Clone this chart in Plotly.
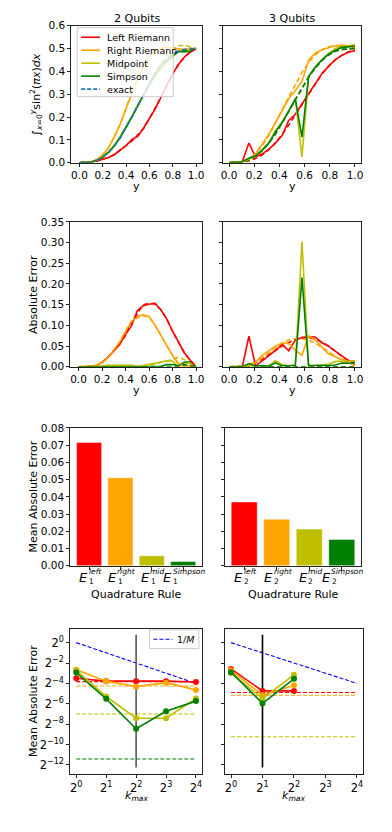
import numpy as np
import plotly.graph_objects as go

# ---------------- data ----------------
methods = ["Left Riemann", "Right Riemann", "Midpoint", "Simpson"]

# 2 qubits, cumulative integral
y_2q = [0.0, 0.05, 0.1, 0.15, 0.2, 0.25, 0.3, 0.35, 0.4, 0.45, 0.5,
        0.55, 0.6, 0.65, 0.7, 0.75, 0.8, 0.85, 0.9, 0.95, 1.0]
exact_2q = [0, 0.0004, 0.0032, 0.0106, 0.0243, 0.0454, 0.0743, 0.1106, 0.1532, 0.2004, 0.25,
            0.2996, 0.3468, 0.3894, 0.4257, 0.4546, 0.4757, 0.4894, 0.4968, 0.4996, 0.5]
left_2q = [0, 0.0004, 0.003, 0.008, 0.014, 0.023, 0.036, 0.057, 0.075, 0.102, 0.115,
           0.152, 0.196, 0.236, 0.288, 0.339, 0.39, 0.431, 0.463, 0.484, 0.5]
left_2q_cl = [0, 0.0004, 0.003, 0.008, 0.014, 0.023, 0.036, 0.055, 0.078, 0.095, 0.122,
              0.15, 0.194, 0.238, 0.288, 0.339, 0.39, 0.431, 0.463, 0.484, 0.5]
right_2q = [0, 0.0004, 0.004, 0.014, 0.034, 0.067, 0.114, 0.17, 0.238, 0.308, 0.372,
            0.425, 0.468, 0.49, 0.502, 0.506, 0.503, 0.497, 0.495, 0.498, 0.5]
right_2q_cl = [0, 0.0004, 0.004, 0.014, 0.034, 0.067, 0.114, 0.17, 0.24, 0.31, 0.368,
               0.423, 0.467, 0.49, 0.502, 0.505, 0.502, 0.496, 0.496, 0.499, 0.5]
mid_2q = [0, 0.0004, 0.003, 0.011, 0.026, 0.049, 0.078, 0.115, 0.157, 0.204, 0.25,
          0.297, 0.341, 0.38, 0.414, 0.44, 0.462, 0.489, 0.487, 0.492, 0.5]
mid_2q_cl = [0, 0.0004, 0.003, 0.011, 0.025, 0.047, 0.077, 0.114, 0.156, 0.203, 0.25,
             0.302, 0.35, 0.396, 0.435, 0.468, 0.494, 0.512, 0.514, 0.507, 0.5]
simp_2q = [0, 0.0004, 0.0032, 0.0106, 0.0243, 0.0454, 0.0743, 0.1106, 0.1532, 0.2004, 0.25,
           0.2996, 0.3468, 0.3894, 0.4247, 0.4496, 0.4705, 0.4874, 0.4858, 0.4876, 0.5]
simp_2q_cl = [0, 0.0004, 0.0032, 0.0106, 0.0243, 0.0454, 0.0743, 0.1106, 0.1532, 0.2004, 0.25,
              0.2996, 0.3468, 0.3894, 0.4257, 0.4546, 0.4757, 0.4874, 0.4918, 0.4976, 0.5]

# 3 qubits, cumulative integral
y_3q = [0.0, 0.0526, 0.1053, 0.1579, 0.2105, 0.2632, 0.3158, 0.3684, 0.4211, 0.4737,
        0.5263, 0.5789, 0.6316, 0.6842, 0.7368, 0.7895, 0.8421, 0.8947, 0.9474, 1.0]
exact_3q = [0, 0.0005, 0.0038, 0.0123, 0.0281, 0.0523, 0.0850, 0.1257, 0.1727, 0.2237,
            0.2763, 0.3273, 0.3743, 0.4150, 0.4477, 0.4719, 0.4877, 0.4962, 0.4995, 0.5]
left_3q = [0, 0.0005, 0.004, 0.086, 0.026, 0.038, 0.059, 0.086, 0.119, 0.185,
           0.212, 0.257, 0.302, 0.343, 0.39, 0.422, 0.45, 0.47, 0.484, 0.49]
left_3q_cl = [0, 0.0005, 0.003, 0.008, 0.018, 0.034, 0.057, 0.087, 0.123, 0.165,
              0.21, 0.257, 0.304, 0.348, 0.388, 0.422, 0.45, 0.47, 0.486, 0.495]
right_3q = [0, 0.0005, 0.005, 0.018, 0.038, 0.08, 0.124, 0.175, 0.23, 0.28,
            0.316, 0.355, 0.449, 0.48, 0.495, 0.503, 0.512, 0.515, 0.512, 0.515]
right_3q_cl = [0, 0.0005, 0.005, 0.017, 0.04, 0.074, 0.119, 0.172, 0.23, 0.288,
               0.344, 0.395, 0.438, 0.472, 0.495, 0.508, 0.513, 0.512, 0.508, 0.503]
mid_3q = [0, 0.0005, 0.004, 0.015, 0.03, 0.055, 0.087, 0.14, 0.178, 0.226,
          0.28, 0.025, 0.376, 0.418, 0.452, 0.478, 0.5, 0.51, 0.512, 0.515]
mid_3q_cl = [0, 0.0005, 0.0038, 0.0125, 0.0285, 0.053, 0.086, 0.127, 0.174, 0.225,
             0.277, 0.328, 0.375, 0.415, 0.448, 0.472, 0.488, 0.496, 0.4995, 0.5]
simp_3q = [0, 0.0005, 0.004, 0.02, 0.03, 0.055, 0.086, 0.135, 0.175, 0.226,
           0.28, 0.112, 0.377, 0.418, 0.45, 0.475, 0.492, 0.505, 0.508, 0.51]
simp_3q_cl = [0, 0.0005, 0.0038, 0.0123, 0.0281, 0.0523, 0.0850, 0.1257, 0.1727, 0.2237,
              0.2763, 0.3273, 0.3743, 0.4150, 0.4477, 0.4719, 0.4877, 0.4962, 0.4995, 0.5]

# Mean absolute error bars
bar_sup = ["left", "right", "mid", "Simpson"]
bar_sub_2q = "1"
bar_sub_3q = "2"
mae_2q = [0.0715, 0.051, 0.0058, 0.0025]
mae_3q = [0.037, 0.027, 0.0213, 0.0153]

# MAE vs k_max
kmax_2q = [1, 2, 4, 8, 16]
kmax_3q = [1, 2, 4]
kmax_all = [1, 2, 4, 8, 16]
inv_M = [1.0, 0.5, 0.25, 0.125, 0.0625]
k_err_2q = {
    "left": [0.0884, 0.0728, 0.0728, 0.0728, 0.0684],
    "right": [0.1593, 0.0728, 0.0501, 0.0656, 0.0399],
    "mid": [0.1528, 0.0256, 0.00584, 0.00584, 0.0224],
    "simp": [0.1303, 0.0218, 0.00286, 0.00935, 0.0187],
}
k_err_3q = {
    "left": [0.1672, 0.0375, 0.0375],
    "right": [0.1528, 0.0280, 0.0548],
    "mid": [0.1276, 0.0224, 0.1119],
    "simp": [0.1340, 0.0160, 0.0854],
}
classical_2q = {"left": 0.0705, "right": 0.0522, "mid": 0.0078, "simp": 0.000364}
classical_3q = {"left": 0.0335, "right": 0.0280, "mid": 0.00166}
k_selected_2q = 4
k_selected_3q = 2
log2_tick_exps = [0, -2, -4, -6, -8, -10, -12]
kmax_tick_exps = [0, 1, 2, 3, 4]

# ---------------- style ----------------
C = {"left": "#ff0000", "right": "#ffa500", "mid": "#bfbf00", "simp": "#008000"}
C_EXACT = "#1f77b4"
FONT = "DejaVu Sans"
W, H = 392, 832
LW = 1.6
DASH = "5px,3px"
# approximate DejaVu Sans advance widths (em/1000) for label layout
CHAR_W = {"l": 278, "e": 615, "f": 352, "t": 392, "r": 411, "i": 278, "g": 635, "h": 634,
          "m": 974, "d": 635, "S": 635, "p": 635, "s": 521, "o": 612, "n": 634}


def xd(a, b):
    return [a / W, b / W]


def yd(top, bottom):
    return [1 - bottom / H, 1 - top / H]


fig = go.Figure()
keys = ["left", "right", "mid", "simp"]


def add_curve(x, y, color, xa, ya, dash=None, width=LW):
    fig.add_trace(go.Scatter(x=x, y=y, mode="lines",
                             line=dict(color=color, width=width, dash=dash),
                             xaxis=xa, yaxis=ya, showlegend=False, hoverinfo="skip"))


# Row 1 left: 2 qubits
sol2 = [left_2q, right_2q, mid_2q, simp_2q]
cl2 = [left_2q_cl, right_2q_cl, mid_2q_cl, simp_2q_cl]
for k, s in zip(keys, sol2):
    add_curve(y_2q, s, C[k], "x", "y")
for k, c in zip(keys, cl2):
    add_curve(y_2q, c, C[k], "x", "y", dash=DASH)
add_curve(y_2q, exact_2q, C_EXACT, "x", "y", dash=DASH)

# Row 1 right: 3 qubits
sol3 = [left_3q, right_3q, mid_3q, simp_3q]
cl3 = [left_3q_cl, right_3q_cl, mid_3q_cl, simp_3q_cl]
add_curve(y_3q, exact_3q, C_EXACT, "x2", "y2", dash=DASH)
for k, c in zip(keys, cl3):
    add_curve(y_3q, c, C[k], "x2", "y2", dash=DASH)
for k, s in zip(keys, sol3):
    add_curve(y_3q, s, C[k], "x2", "y2")

# Row 2: absolute errors
ex2 = np.array(exact_2q)
ex3 = np.array(exact_3q)
for k, s in zip(keys, sol2):
    add_curve(y_2q, np.abs(np.array(s) - ex2), C[k], "x3", "y3")
for k, c in zip(keys, cl2):
    add_curve(y_2q, np.abs(np.array(c) - ex2), C[k], "x3", "y3", dash=DASH)
for k, c in zip(keys, cl3):
    add_curve(y_3q, np.abs(np.array(c) - ex3), C[k], "x4", "y4", dash=DASH)
for k, s in zip(keys, sol3):
    add_curve(y_3q, np.abs(np.array(s) - ex3), C[k], "x4", "y4")

# Row 3: bars
bar_colors = [C[k] for k in keys]
for xa, ya, vals in (("x5", "y5", mae_2q), ("x6", "y6", mae_3q)):
    fig.add_trace(go.Bar(x=list(range(len(vals))), y=vals,
                         marker=dict(color=bar_colors, line=dict(width=1, color="rgba(255,255,255,0.45)")),
                         width=0.8, xaxis=xa, yaxis=ya, showlegend=False, hoverinfo="skip"))

# Row 4: MAE vs k_max
YR4 = [-12.87 * np.log10(2), 1.35 * np.log10(2)]
XR4 = [-0.2 * np.log10(2), 4.2 * np.log10(2)]
v_lo = 10 ** (YR4[0] + 0.043 * (YR4[1] - YR4[0]))
v_hi = 10 ** (YR4[0] + 0.959 * (YR4[1] - YR4[0]))


def row4(xa, ya, kvals, errs, classical, ksel, vcolor):
    for k in keys:
        if k in classical:
            fig.add_trace(go.Scatter(x=[kmax_all[0], kmax_all[-1]], y=[classical[k]] * 2, mode="lines",
                                     line=dict(color=C[k], width=1.1, dash="4px,2px"),
                                     xaxis=xa, yaxis=ya, showlegend=False, hoverinfo="skip"))
    fig.add_trace(go.Scatter(x=kmax_all, y=inv_M, mode="lines",
                             line=dict(color="#0000ff", width=1.1, dash="4px,2px"),
                             xaxis=xa, yaxis=ya, showlegend=False, hoverinfo="skip"))
    fig.add_trace(go.Scatter(x=[ksel, ksel], y=[v_lo, v_hi], mode="lines",
                             line=dict(color=vcolor, width=1.6),
                             xaxis=xa, yaxis=ya, showlegend=False, hoverinfo="skip"))
    for k in keys:
        fig.add_trace(go.Scatter(x=kvals, y=errs[k], mode="lines+markers",
                                 line=dict(color=C[k], width=LW), marker=dict(color=C[k], size=6),
                                 xaxis=xa, yaxis=ya, showlegend=False, hoverinfo="skip"))


row4("x7", "y7", kmax_2q, k_err_2q, classical_2q, k_selected_2q, "#555555")
row4("x8", "y8", kmax_3q, k_err_3q, classical_3q, k_selected_3q, "#000000")

# ---------------- layout ----------------
tickfont = dict(family=FONT, size=10.5, color="black")
base = dict(showline=True, mirror=True, linecolor="#222", linewidth=1, ticks="outside",
            ticklen=3, tickwidth=1, tickcolor="#222", showgrid=False, zeroline=False,
            tickfont=tickfont, fixedrange=True)

lay = {}
lay["xaxis"] = dict(base, domain=xd(70, 202), range=[-0.07, 1.05], dtick=0.2, tick0=0, tickformat=".1f", anchor="y")
lay["yaxis"] = dict(base, domain=yd(20, 159), range=[0, 0.6], dtick=0.1, tick0=0, tickformat=".1f", anchor="x")
lay["xaxis2"] = dict(base, domain=xd(223, 363), range=[-0.05, 1.05], dtick=0.2, tick0=0, tickformat=".1f", anchor="y2")
lay["yaxis2"] = dict(base, domain=yd(20, 159), range=[0, 0.6], dtick=0.1, tick0=0, showticklabels=False, anchor="x2")
lay["xaxis3"] = dict(base, domain=xd(69, 202), range=[-0.07, 1.05], dtick=0.2, tick0=0, tickformat=".1f", anchor="y3")
lay["yaxis3"] = dict(base, domain=yd(219, 366), range=[0, 0.35], dtick=0.05, tick0=0, tickformat=".2f", anchor="x3")
lay["xaxis4"] = dict(base, domain=xd(223, 363), range=[-0.05, 1.05], dtick=0.2, tick0=0, tickformat=".1f", anchor="y4")
lay["yaxis4"] = dict(base, domain=yd(219, 366), range=[0, 0.35], dtick=0.05, tick0=0, showticklabels=False, anchor="x4")
lay["xaxis5"] = dict(base, domain=xd(69, 202), range=[-0.6, 3.6], tickvals=[0, 1, 2, 3], showticklabels=False, anchor="y5")
lay["yaxis5"] = dict(base, domain=yd(428, 568), range=[0, 0.08], dtick=0.01, tick0=0, tickformat=".2f", anchor="x5")
lay["xaxis6"] = dict(base, domain=xd(225, 363), range=[-0.6, 3.6], tickvals=[0, 1, 2, 3], showticklabels=False, anchor="y6")
lay["yaxis6"] = dict(base, domain=yd(428, 568), range=[0, 0.08], dtick=0.01, tick0=0, showticklabels=False, anchor="x6")
ytv = [2.0 ** e for e in log2_tick_exps]
ytt = ["2<sup>%s</sup>" % (str(e).replace("-", "\u2212")) for e in log2_tick_exps]
xtv = [2.0 ** e for e in kmax_tick_exps]
xtt = ["2<sup>%d</sup>" % e for e in kmax_tick_exps]
f4 = dict(family=FONT, size=11.5, color="black")
lay["xaxis7"] = dict(base, type="log", domain=xd(69, 202), range=XR4, tickvals=xtv, ticktext=xtt, tickfont=f4, anchor="y7")
lay["yaxis7"] = dict(base, type="log", domain=yd(632, 779), range=YR4, tickvals=ytv, ticktext=ytt, tickfont=f4, anchor="x7")
lay["xaxis8"] = dict(base, type="log", domain=xd(225, 365), range=XR4, tickvals=xtv, ticktext=xtt, tickfont=f4, anchor="y8")
lay["yaxis8"] = dict(base, type="log", domain=yd(632, 779), range=YR4, tickvals=ytv, ticktext=ytt, showticklabels=False, anchor="x8")
fig.update_layout(**lay)


def ann(text, x, y, size=11, angle=0, xanchor="center", **kw):
    d = dict(text=text, x=x / W, y=1 - y / H, xref="paper", yref="paper", showarrow=False,
             xanchor=xanchor, yanchor="middle", textangle=angle,
             font=dict(family=FONT, size=size, color="black"))
    d.update(kw)
    return d


annotations = [
    ann("2 Qubits", 136, 12.5), ann("3 Qubits", 293, 12.5),
    ann("y", 136, 183), ann("y", 293, 183),
    ann("y", 136, 390), ann("y", 293, 390),
    ann("Quadrature Rule", 136, 597, borderpad=0), ann("Quadrature Rule", 294, 597, borderpad=0),
    ann("<i>k</i><sub><i>max</i></sub>", 136, 802), ann("<i>k</i><sub><i>max</i></sub>", 295, 802),
    ann("\u222b<sub><i>x</i>=0</sub><sup><i>y</i></sup>sin<sup>2</sup>(<i>\u03c0x</i>)<i>dx</i>", 35, 89.5, angle=-90),
    ann("Absolute Error", 32, 292.5, angle=-90),
    ann("Mean Absolute Error", 32, 498, angle=-90),
    ann("Mean Absolute Error", 32, 705.5, angle=-90),
]

# Bar tick labels: E with stacked subscript / superscript
E_SIZE, SCRIPT_SIZE = 13, 7.5
E_W = 0.632 * E_SIZE + 1.0
for xa, sub in (("x5", bar_sub_2q), ("x6", bar_sub_3q)):
    for i, word in enumerate(bar_sup):
        supw = sum(CHAR_W.get(ch, 600) for ch in word) / 1000.0 * SCRIPT_SIZE
        left = -(E_W + supw) / 2
        common = dict(xref=xa, yref="paper", x=i, showarrow=False, xanchor="left",
                      yanchor="middle", borderpad=0)
        annotations.append(dict(common, text="<i>E</i>", y=1 - 579.5 / H, xshift=left,
                                font=dict(family=FONT, size=E_SIZE, color="black")))
        annotations.append(dict(common, text="<i>%s</i>" % word, y=1 - 573.5 / H, xshift=left + E_W,
                                font=dict(family=FONT, size=SCRIPT_SIZE, color="black")))
        annotations.append(dict(common, text=sub, y=1 - 583.5 / H, xshift=left + E_W + 0.5,
                                font=dict(family=FONT, size=SCRIPT_SIZE, color="black")))

# Manual legend (2 Qubits panel)
shapes = []
shapes.append(dict(type="rect", xref="paper", yref="paper", x0=76 / W, x1=173 / W,
                   y0=1 - 92 / H, y1=1 - 22 / H, fillcolor="rgba(255,255,255,0.8)",
                   line=dict(color="#cccccc", width=1), layer="above"))
leg_names = methods + ["exact"]
leg_colors = [C[k] for k in keys] + [C_EXACT]
leg_dash = ["solid"] * 4 + ["4px,2px"]
for j, (nm, col, dsh) in enumerate(zip(leg_names, leg_colors, leg_dash)):
    yc = 31.7 + 13.15 * j
    shapes.append(dict(type="line", xref="paper", yref="paper", x0=80 / W, x1=99 / W,
                       y0=1 - yc / H, y1=1 - yc / H, line=dict(color=col, width=1.6, dash=dsh), layer="above"))
    annotations.append(ann(nm, 105, yc, size=9.5, xanchor="left", borderpad=0))

# Manual legend (1/M)
shapes.append(dict(type="rect", xref="paper", yref="paper", x0=149 / W, x1=199 / W,
                   y0=1 - 652 / H, y1=1 - 633 / H, fillcolor="rgba(255,255,255,0.8)",
                   line=dict(color="#cccccc", width=1), layer="above"))
shapes.append(dict(type="line", xref="paper", yref="paper", x0=153 / W, x1=172 / W,
                   y0=1 - 642.5 / H, y1=1 - 642.5 / H, line=dict(color="#0000ff", width=1.1, dash="4px,2px"),
                   layer="above"))
annotations.append(ann("1/<i>M</i>", 176, 642.5, size=9.5, xanchor="left", borderpad=0))

fig.update_layout(
    width=W, height=H, margin=dict(l=0, r=0, t=0, b=0),
    paper_bgcolor="white", plot_bgcolor="white",
    annotations=annotations, shapes=shapes, showlegend=False,
    font=dict(family=FONT, size=11, color="black"),
    bargap=0,
)

fig.write_html("out.html", config={"displayModeBar": False, "staticPlot": True},
               post_script="document.body.style.margin='0';")
